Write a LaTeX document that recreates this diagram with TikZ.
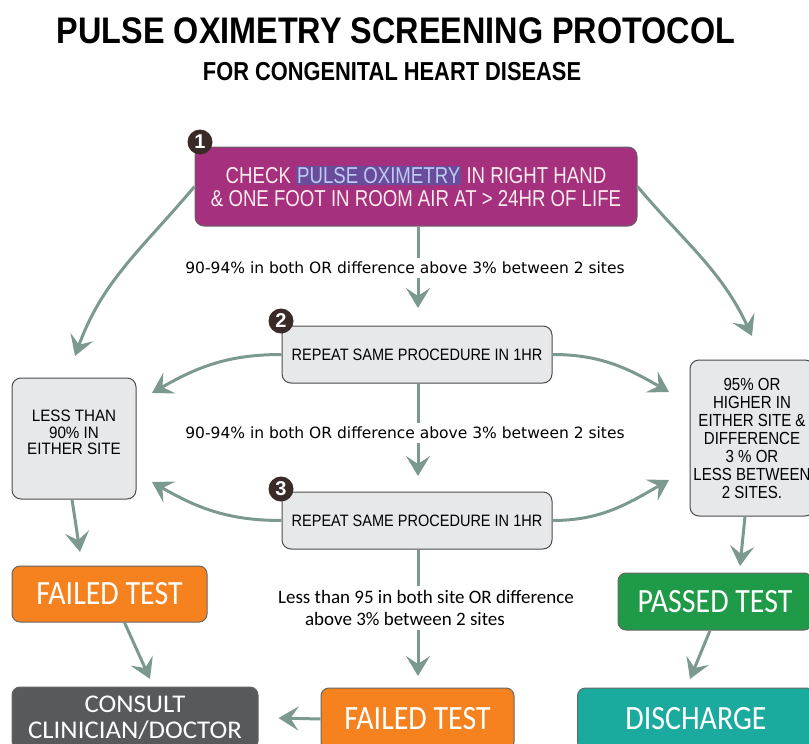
\documentclass[tikz,border=0pt]{standalone}
\usepackage{fontspec}
\setmainfont{Liberation Sans}
\newfontfamily\narrowfont[FakeStretch=0.8]{Liberation Sans}
\newfontfamily\calfont[FakeStretch=0.88]{Carlito}
\newfontfamily\labelfont{DejaVu Sans}
\usetikzlibrary{arrows.meta,positioning}

\definecolor{flowgreen}{HTML}{7C9990}
\definecolor{boxmagenta}{HTML}{A4307E}
\definecolor{boxgray}{HTML}{E7E8EA}
\definecolor{failorange}{HTML}{F5821F}
\definecolor{passgreen}{HTML}{1F9A48}
\definecolor{dischteal}{HTML}{1BAA9E}
\definecolor{consultgray}{HTML}{58595B}
\definecolor{badgebrown}{HTML}{3B2B28}
\definecolor{hlpurple}{HTML}{6A4C9C}
\definecolor{hlblue}{HTML}{BCCBF2}

\tikzset{
  flow/.style={draw=flowgreen, line width=3pt,
    -{Stealth[length=20pt,width=24pt,inset=8pt]}},
  graybox/.style={rectangle, rounded corners=9pt, draw=black!70, line width=1pt,
    fill=boxgray, align=center, inner sep=2pt},
  colorbox/.style={rectangle, rounded corners=8pt, draw=black!60, line width=1pt,
    text=white, align=center, font=\calfont\fontsize{34}{30}\selectfont},
  badge/.style={circle, fill=badgebrown, text=white, minimum size=25pt, inner sep=0pt,
    font=\bfseries\fontsize{20}{20}\selectfont},
  cond/.style={fill=white, align=center, inner sep=4pt}
}

\begin{document}
\begin{tikzpicture}[x=1pt,y=-1pt]
  \useasboundingbox (0,0) rectangle (809,744);
  \clip (0,0) rectangle (809,744);

  %%% title %%%
  \node (title) at (396,31) {\bfseries\fontsize{37}{40}\selectfont\addfontfeature{FakeStretch=0.875}PULSE OXIMETRY SCREENING PROTOCOL};
  \node (subtitle) at (392,72) {\bfseries\fontsize{26}{28}\selectfont\addfontfeature{FakeStretch=0.84}FOR CONGENITAL HEART DISEASE};

  %%% boxes %%%
  \node[graybox, fill=boxmagenta, draw=black!60, text=pink!30, minimum width=442pt, minimum height=79pt,
        font=\narrowfont\fontsize{23}{25}\selectfont\addfontfeature{FakeStretch=0.81}] (check) at (416,186.5)
    {CHECK {\fboxsep=1pt\colorbox{hlpurple}{\textcolor{hlblue}{PULSE OXIMETRY}}} IN RIGHT HAND\\[-2pt]
     \& ONE FOOT IN ROOM AIR AT > 24HR OF LIFE};
  \node[graybox, minimum width=270pt, minimum height=57pt,
        font=\fontsize{16.5}{18}\selectfont\addfontfeature{FakeStretch=0.88}] (repeat1) at (417,354.5) {REPEAT SAME PROCEDURE IN 1HR};
  \node[graybox, minimum width=270pt, minimum height=57pt,
        font=\fontsize{16.5}{18}\selectfont\addfontfeature{FakeStretch=0.88}] (repeat2) at (417,520.5) {REPEAT SAME PROCEDURE IN 1HR};
  \node[graybox, minimum width=124pt, minimum height=121pt,
        font=\fontsize{16.5}{16.5}\selectfont\addfontfeature{FakeStretch=0.92}] (low) at (74,438.5) {LESS THAN\\90\% IN\\EITHER SITE\\[-4pt]};
  \node[graybox, minimum width=124pt, minimum height=156pt,
        font=\fontsize{17.5}{18}\selectfont\addfontfeature{FakeStretch=0.86}] (high) at (752,438)
    {95\% OR\\HIGHER IN\\EITHER SITE \&\\DIFFERENCE\\3 \% OR\\LESS BETWEEN\\2 SITES.};

  \node[colorbox, fill=failorange, minimum width=195pt, minimum height=56pt] (fail1) at (109.5,594) {FAILED TEST};
  \node[colorbox, fill=consultgray, minimum width=246pt, minimum height=62pt,
        font=\calfont\fontsize{25.5}{26}\selectfont\addfontfeature{FakeStretch=1.05}] (consult) at (135,718) {CONSULT\\CLINICIAN/DOCTOR};
  \node[colorbox, fill=failorange, minimum width=193pt, minimum height=62pt] (fail2) at (417.5,719) {FAILED TEST};
  \node[colorbox, fill=passgreen, minimum width=194pt, minimum height=57pt] (pass) at (715,601.5) {PASSED TEST};
  \node[colorbox, fill=dischteal, minimum width=237pt, minimum height=62pt] (discharge) at (696,719) {DISCHARGE};

  %%% badges %%%
  \node[badge] (n1) at (200,142) {1};
  \node[badge] (n2) at (281,321) {2};
  \node[badge] (n3) at (281,489) {3};

  %%% free ends %%%
  \coordinate (t1) at (418,308);
  \coordinate (t2) at (418,476);
  \coordinate (t3) at (418,676);
  \coordinate (tl) at (75,356);
  \coordinate (tr) at (752,336);
  \coordinate (tl1) at (152,393);
  \coordinate (tl2) at (152,482);
  \coordinate (tr1) at (669,392);
  \coordinate (tr2) at (669,480);
  \coordinate (tf) at (80,552);
  \coordinate (tc) at (150,679);
  \coordinate (tp) at (740,566);
  \coordinate (td) at (690,679);

  %%% arrows %%%
  \draw[flow] (check.south -| t1) -- (t1);
  \draw[flow] (repeat1.south -| t2) -- (t2);
  \draw[flow] (repeat2.south -| t3) -- (t3);
  \draw[flow] (check.west) to[out=230,in=70] (tl);
  \draw[flow] (check.east) to[out=-50,in=115] (tr);
  \draw[flow] (repeat1.west) to[out=180,in=30] (tl1);
  \draw[flow] (repeat1.east) to[out=0,in=150] (tr1);
  \draw[flow] (repeat2.west) to[out=180,in=-30] (tl2);
  \draw[flow] (repeat2.east) to[out=0,in=-150] (tr2);
  \draw[flow] ([xshift=-2pt]low.south) -- (tf);
  \draw[flow] ([xshift=15pt]fail1.south) -- (tc);
  \draw[flow] ([xshift=-7pt]high.south) -- (tp);
  \draw[flow] ([xshift=-5pt]pass.south) -- (td);
  \draw[flow] (fail2.west) -- ([xshift=20pt]consult.east);

  %%% conditions %%%
  \node[cond, font=\labelfont\fontsize{15.5}{17}\selectfont] (c1) at (405,268) {90-94\% in both OR difference above 3\% between 2 sites};
  \node[cond, font=\labelfont\fontsize{15.5}{17}\selectfont] (c2) at (405,433) {90-94\% in both OR difference above 3\% between 2 sites};
  \node[cond, align=left, font=\calfont\fontsize{19}{22}\selectfont\addfontfeature{FakeStretch=1}] (c3) at (426,608)
    {Less than 95 in both site OR difference\\\hspace*{27pt}above 3\% between 2 sites};

\end{tikzpicture}
\end{document}
